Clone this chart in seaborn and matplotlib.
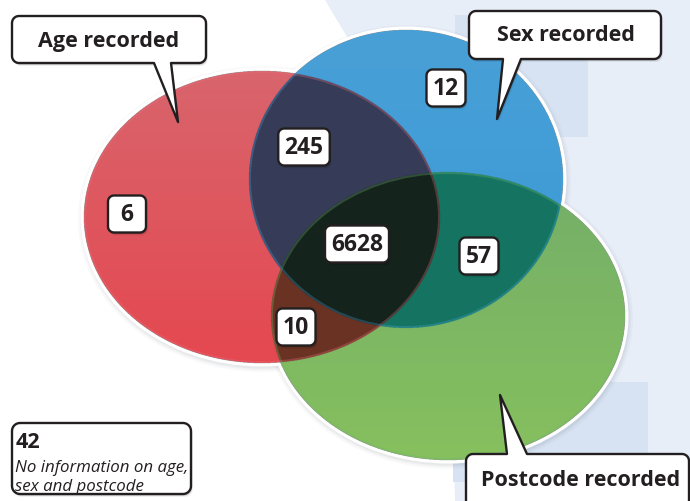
import numpy as np
import matplotlib
matplotlib.use("Agg")
import matplotlib.pyplot as plt
from matplotlib.patches import Ellipse, Polygon, Rectangle
import seaborn as sns

# ---------------- data ----------------
set_names = ["Age recorded", "Sex recorded", "Postcode recorded"]
region_names = ["Age only", "Sex only", "Age & Sex", "Age & Sex & Postcode", "Sex & Postcode", "Age & Postcode"]
region_counts = [6, 12, 245, 6628, 57, 10]
none_count = 42
none_lines = ["No information on age,", "sex and postcode"]

# ---------------- layout (pixels, y down) ----------------
W, H = 690, 501
ell = {  # center x, center y, semi-axis x, semi-axis y
    "Age recorded": (262, 217, 178, 146),
    "Sex recorded": (406, 179, 157, 149),
    "Postcode recorded": (448, 316, 177, 144),
}
region_pos = [(127, 214), (446, 88), (304, 147), (357, 244), (479, 256), (296, 327)]
callouts = {
    "Age recorded": dict(box=(12, 16, 206, 63), ptr=("bottom", 154, 171, 178, 122), text=(109, 41)),
    "Sex recorded": dict(box=(469, 11, 661, 59), ptr=("bottom", 503, 521, 497, 119), text=(566, 35)),
    "Postcode recorded": dict(box=(466, 454, 689, 520), ptr=("top", 507, 527, 500, 395), text=(581, 481)),
}

sns.set_theme(style="white")
plt.rcParams["font.family"] = ["Open Sans", "DejaVu Sans"]

fig = plt.figure(figsize=(W / 100, H / 100), dpi=100)
ax = fig.add_axes([0, 0, 1, 1])
ax.set_xlim(0, W)
ax.set_ylim(H, 0)
ax.axis("off")
ax.set_facecolor("white")

# background shapes
bg = Polygon([(325, 0), (W, 0), (W, H), (455, H), (452, 380), (446, 290), (430, 210),
              (400, 140), (362, 62)], closed=True, facecolor="#E7EEF8", edgecolor="none", zorder=0)
ax.add_patch(bg)
ax.add_patch(Rectangle((455, 15), 133, 122, facecolor="#D7E3F2", edgecolor="none", zorder=0.5))
ax.add_patch(Rectangle((453, 382), 195, 100, facecolor="#D7E3F2", edgecolor="none", zorder=0.5))

# shadows + white rims of ellipses
for name, (cx, cy, a, b) in ell.items():
    for lw, al in [(14, 0.035), (10, 0.05), (7, 0.06)]:
        ax.add_patch(Ellipse((cx + 1, cy + 2), 2 * a, 2 * b, facecolor="none",
                             edgecolor="#5a6070", lw=lw * 0.72, alpha=al, zorder=1))
for name, (cx, cy, a, b) in ell.items():
    ax.add_patch(Ellipse((cx, cy), 2 * a, 2 * b, facecolor="none", edgecolor="white",
                         lw=7 * 0.72, zorder=1.5))

# region fills as a supersampled raster
ss = 3
xs = (np.arange(W * ss) + 0.5) / ss
ys = (np.arange(H * ss) + 0.5) / ss
X, Y = np.meshgrid(xs, ys)
def inside(p):
    cx, cy, a, b = p
    return ((X - cx) / a) ** 2 + ((Y - cy) / b) ** 2 <= 1.0
A = inside(ell["Age recorded"])
S = inside(ell["Sex recorded"])
P = inside(ell["Postcode recorded"])

def hexrgb(h):
    h = h.lstrip("#")
    return np.array([int(h[i:i + 2], 16) / 255 for i in (0, 2, 4)])

img = np.zeros((H * ss, W * ss, 4))
t = ((Y - 70) / 300).clip(0, 1)[..., None]
red = hexrgb("#D9656D") * (1 - t) + hexrgb("#E5474F") * t
blue = hexrgb("#479FD6") * (1 - t) + hexrgb("#3898D8") * t
tg = ((Y - 170) / 290).clip(0, 1)[..., None]
green = hexrgb("#74AE69") * (1 - tg) + hexrgb("#86C05E") * tg
regions = [
    (A & ~S & ~P, red),
    (S & ~A & ~P, blue),
    (P & ~A & ~S, green),
    (A & S & ~P, hexrgb("#363B57")),
    (S & P & ~A, hexrgb("#157561")),
    (A & P & ~S, hexrgb("#6A3224")),
    (A & S & P, hexrgb("#15231D")),
]
for m, col in regions:
    if col.ndim == 1:
        img[m, :3] = col
    else:
        img[m, :3] = col[m]
    img[m, 3] = 1.0
ax.imshow(img, extent=(0, W, H, 0), interpolation="antialiased", zorder=2, aspect="auto")

# faint inner rims along each ellipse boundary
rim_cols = {"Age recorded": "#E8707A", "Sex recorded": "#45A3DC", "Postcode recorded": "#72B86A"}
for name, (cx, cy, a, b) in ell.items():
    clip = Ellipse((cx, cy), 2 * a, 2 * b, transform=ax.transData, facecolor="none", edgecolor="none")
    ax.add_patch(clip)
    e = Ellipse((cx, cy), 2 * a, 2 * b, facecolor="none", edgecolor=rim_cols[name],
                lw=4 * 0.72, alpha=0.3, zorder=3)
    ax.add_patch(e)
    e.set_clip_path(clip)

# rounded box helper
def callout_pts(x0, y0, x1, y1, r, ptr=None):
    pts = []
    def arc(cx, cy, a0, a1):
        for th in np.linspace(a0, a1, 10):
            pts.append((cx + r * np.cos(th), cy + r * np.sin(th)))
    arc(x0 + r, y0 + r, np.pi, 1.5 * np.pi)
    if ptr and ptr[0] == "top":
        _, bx0, bx1, tx, ty = ptr
        pts += [(bx0, y0), (tx, ty), (bx1, y0)]
    arc(x1 - r, y0 + r, 1.5 * np.pi, 2 * np.pi)
    arc(x1 - r, y1 - r, 0, 0.5 * np.pi)
    if ptr and ptr[0] == "bottom":
        _, bx0, bx1, tx, ty = ptr
        pts += [(bx1, y1), (tx, ty), (bx0, y1)]
    arc(x0 + r, y1 - r, 0.5 * np.pi, np.pi)
    return np.array(pts)

def draw_box(x0, y0, x1, y1, r, ptr=None, lw=1.7, z=5):
    pts = callout_pts(x0, y0, x1, y1, r, ptr)
    for off, al in [(3.0, 0.06), (2.0, 0.10), (1.2, 0.12)]:
        ax.add_patch(Polygon(pts + np.array([off * 0.6, off]), closed=True, facecolor="black",
                             edgecolor="none", alpha=al, zorder=z - 0.5))
    ax.add_patch(Polygon(pts, closed=True, facecolor="white", edgecolor="#231F20", lw=lw,
                         joinstyle="round", zorder=z))

# callouts
for name in set_names:
    c = callouts[name]
    x0, y0, x1, y1 = c["box"]
    draw_box(x0, y0, x1, y1, 7, c["ptr"])
    tx, ty = c["text"]
    ax.text(tx, ty, name, ha="center", va="center", fontsize=15.5, fontweight="bold",
            color="#231F20", zorder=6)

# region count labels
for (x, y), v in zip(region_pos, region_counts):
    s = str(v)
    w = max(38, 14 + 12.5 * len(s))
    draw_box(x - w / 2, y - 18.5, x + w / 2, y + 18.5, 6, None, lw=1.7, z=7)
    ax.text(x, y + 1, s, ha="center", va="center", fontsize=16.5, fontweight="bold",
            color="#231F20", zorder=8)

# no-information box
draw_box(12, 423, 191, 494, 8, None, lw=1.7, z=7)
ax.text(16, 448, str(none_count), ha="left", va="baseline", fontsize=15.5, fontweight="bold",
        color="#231F20", zorder=8)
for i, line in enumerate(none_lines):
    ax.text(15, 472 + 19 * i, line, ha="left", va="baseline", fontsize=12.2, fontstyle="italic",
            color="#231F20", zorder=8)

fig.savefig("out.png", dpi=100)
